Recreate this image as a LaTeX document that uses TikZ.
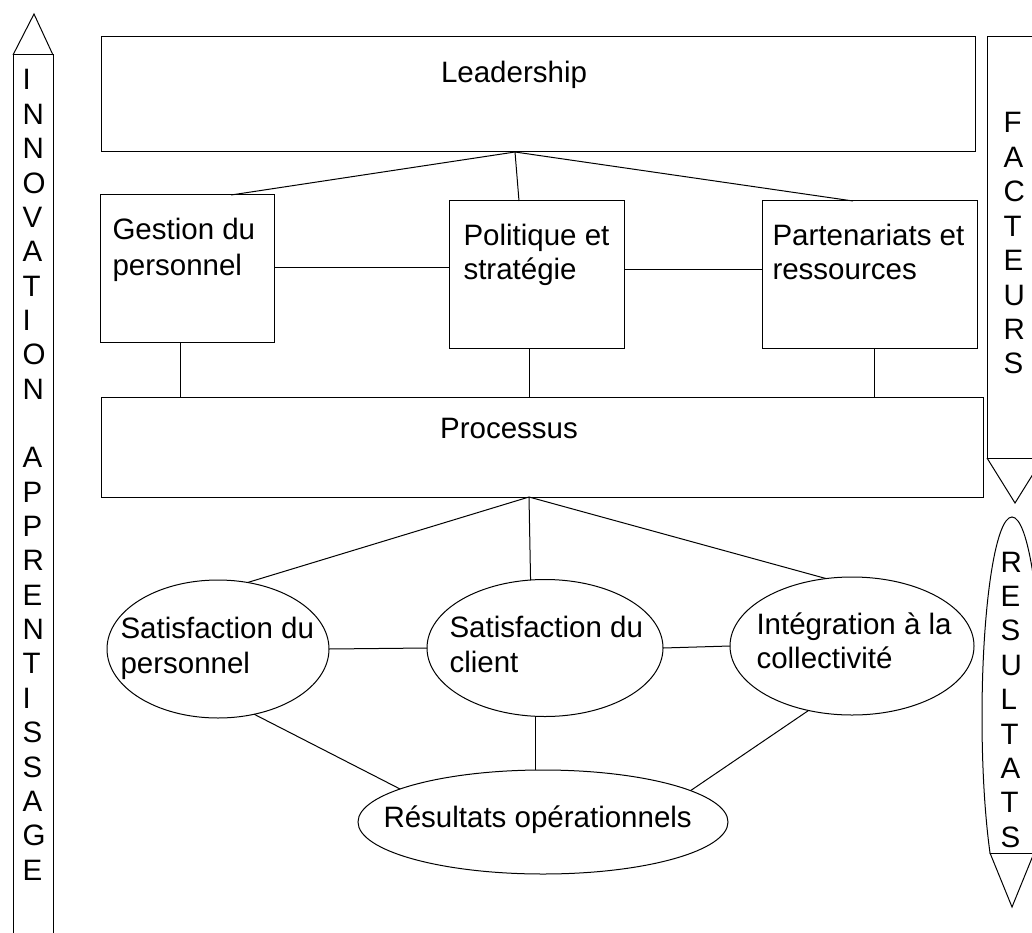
\documentclass[tikz,border=0pt]{standalone}
\usepackage{fontspec}
\setmainfont{Liberation Sans}
\usetikzlibrary{shapes.geometric,calc}
\begin{document}
\begin{tikzpicture}[x=1pt,y=-1pt,line width=1pt,
  box/.style={draw, rectangle, inner sep=0pt, outer sep=0pt},
  oval/.style={draw, ellipse, inner sep=0pt, outer sep=0pt},
  lbl/.style={anchor=base west, inner sep=0pt, font=\fontsize{29.5}{34.4}\selectfont},
  lblc/.style={anchor=base, inner sep=0pt, font=\fontsize{29.5}{34.4}\selectfont}]
\useasboundingbox (0,0) rectangle (1032,933);
\clip (0,0) rectangle (1032,933);
\fill[white] (0,0) rectangle (1032,933);

% boxes
\node[box, minimum width=874pt, minimum height=115pt] (lead) at (538,94.5) {};
\node[box, minimum width=174pt, minimum height=147pt] (gest) at (187,268.5) {};
\node[box, minimum width=175pt, minimum height=147pt] (poli) at (536.5,274.5) {};
\node[box, minimum width=215pt, minimum height=147pt] (part) at (869.5,274.5) {};
\node[box, minimum width=882pt, minimum height=100pt] (proc) at (542,447) {};
% ellipses
\node[oval, minimum width=222pt, minimum height=138pt] (satp) at (218,649) {};
\node[oval, minimum width=236pt, minimum height=137pt] (satc) at (545,648) {};
\node[oval, minimum width=244pt, minimum height=138pt] (integ) at (852,646) {};
\node[oval, minimum width=370pt, minimum height=104pt] (res) at (543,822) {};

% connectors
\coordinate (j1) at ([xshift=414pt]lead.south west);
\draw (j1) -- ([xshift=131pt]gest.north west);
\draw (j1) -- ([xshift=70pt]poli.north west);
\draw (j1) -- ([xshift=91pt]part.north west);
\draw ([yshift=1.5pt]gest.east) -- ([yshift=1.5pt]gest.east -| poli.west);
\draw ([yshift=5.5pt]poli.east) -- ([yshift=5.5pt]poli.east -| part.west);
\draw ([xshift=80pt]gest.south west) -- ([xshift=80pt]gest.south west |- proc.north);
\draw ([xshift=80pt]poli.south west) -- ([xshift=80pt]poli.south west |- proc.north);
\draw ([xshift=112pt]part.south west) -- ([xshift=112pt]part.south west |- proc.north);
\coordinate (j2) at ([xshift=428pt]proc.south west);
\draw (j2) -- (satp.66);
\draw (j2) -- (satc.102);
\draw (j2) -- (integ.111);
\draw (satp.east) -- (satc.west);
\draw (satc.east) -- (integ.west);
\draw (satp.299) -- (res.167);
\draw (satc.262) -- (satc.262 |- res.north);
\draw (integ.236) -- (res.12);

% texts
\node[lblc] (tlead) at (514,83) {Leadership};
\node[lbl] (tgest1) at (112,240) {Gestion du};
\node[lbl] (tgest2) at (112,275) {personnel};
\node[lbl] (tpoli1) at (463,245) {Politique et};
\node[lbl] (tpoli2) at (463,279) {stratégie};
\node[lbl] (tpart1) at (772,245) {Partenariats et};
\node[lbl] (tpart2) at (772,279) {ressources};
\node[lblc] (tproc) at (509,438) {Processus};
\node[lbl] (tsatp1) at (120,638) {Satisfaction du};
\node[lbl] (tsatp2) at (120,673) {personnel};
\node[lbl] (tsatc1) at (449,637) {Satisfaction du};
\node[lbl] (tsatc2) at (449,672) {client};
\node[lbl] (tint1) at (756,634) {Intégration à la};
\node[lbl] (tint2) at (756,668) {collectivité};
\node[lbl] (tres) at (383,827) {Résultats opérationnels};

% left arrow: INNOVATION APPRENTISSAGE
\draw (13,945) -- (13,55) -- (53,55) -- (53,945);
\draw (13,55) -- (34,14) -- (53,55);
\foreach \l [count=\i from 0] in {I,N,N,O,V,A,T,I,O,N,{},A,P,P,R,E,N,T,I,S,S,A,G,E}
  \node[lbl] (inn\i) at (22,{90+34.35*\i}) {\l};

% right arrow: FACTEURS
\draw (1045,37) -- (987,37) -- (987,458) -- (1045,458);
\draw (987,458) -- (1015,503) -- (1043,458);
\foreach \l [count=\i from 0] in {F,A,C,T,E,U,R,S}
  \node[lbl] (fac\i) at (1003,{133+34.4*\i}) {\l};

% right arrow: RESULTATS
\begin{scope}
  \clip (950,500) rectangle (1040,853);
  \draw (1012,717) ellipse [x radius=30pt, y radius=200pt];
\end{scope}
\draw (990,853) -- (1034,853);
\draw (990,853) -- (1012,907) -- (1034,853);
\foreach \l [count=\i from 0] in {R,E,S,U,L,T,A,T,S}
  \node[lbl] (res\i) at (1000,{572+34.4*\i}) {\l};
\end{tikzpicture}
\end{document}
